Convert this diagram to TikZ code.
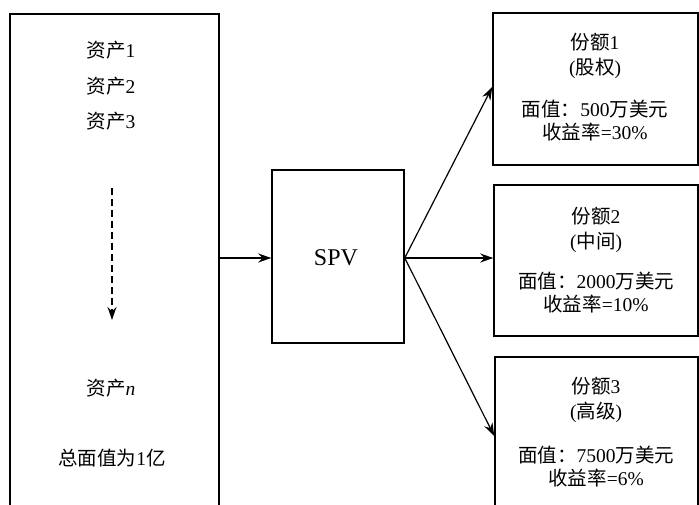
\documentclass[tikz,border=0pt]{standalone}
\usepackage{fontspec}
\setmainfont{Liberation Serif}
\newfontfamily\cjk{Noto Sans CJK SC}
\usetikzlibrary{arrows.meta,calc}
\tikzset{
  box/.style={draw, line width=1.5pt, inner sep=0pt},
  lbl/.style={font=\fontsize{19.5}{22}\selectfont, inner sep=0pt, align=center},
  hd/.style={lbl, font=\fontsize{19.5}{25}\selectfont},
  vl/.style={lbl, font=\fontsize{19.5}{23}\selectfont},
  conn/.style={line width=1.2pt, -{Stealth[length=13pt,width=9pt]}},
}
\begin{document}
\begin{tikzpicture}[x=1pt,y=-1pt]
\useasboundingbox (0,0) rectangle (699,505);
\clip (0,0) rectangle (699,505);
\fill[white] (0,0) rectangle (699,505);
% boxes
\node[box, minimum width=209pt, minimum height=520pt] (L) at (114.5,274) {};
\node[box, minimum width=132pt, minimum height=173pt] (spv) at (338,256.5) {};
\node[box, minimum width=205pt, minimum height=152pt] (t1) at (595.5,89) {};
\node[box, minimum width=204pt, minimum height=151pt] (t2) at (596,260.5) {};
\node[box, minimum width=203pt, minimum height=200pt] (t3) at (596.5,457) {};
% left box texts
\node[lbl] (a1) at (111,50) {{\cjk 资产}1};
\node[lbl] (a2) at (111,86) {{\cjk 资产}2};
\node[lbl] (a3) at (111,121) {{\cjk 资产}3};
\coordinate (d1) at (112,188);
\coordinate (d2) at (112,320);
\draw[line width=1.6pt, dash pattern=on 7pt off 4pt, -{Stealth[length=13pt,width=9pt]}] (d1) -- (d2);
\node[lbl] (an) at (111,388) {{\cjk 资产}\textit{n}};
\node[lbl] (tot) at (112,458) {{\cjk 总面值为}1{\cjk 亿}};
% SPV
\node[font=\fontsize{24}{28}\selectfont, inner sep=0pt] (spvt) at ($(spv.center)+(-2,1)$) {SPV};
% tranche texts
\node[hd] (h1) at (595,56) {{\cjk 份额}1\\({\cjk 股权})};
\node[vl] (v1) at (595,121) {{\cjk 面值：}500{\cjk 万美元}\\{\cjk 收益率}=30\%};
\node[hd] (h2) at (596,230) {{\cjk 份额}2\\({\cjk 中间})};
\node[vl] (v2) at (596,293) {{\cjk 面值：}2000{\cjk 万美元}\\{\cjk 收益率}=10\%};
\node[hd] (h3) at (596,400) {{\cjk 份额}3\\({\cjk 高级})};
\node[vl] (v3) at (596,467) {{\cjk 面值：}7500{\cjk 万美元}\\{\cjk 收益率}=6\%};
% connectors
\coordinate (o) at ($(spv.east)+(0,1.5)$);
\draw[conn] (L.east |- o) -- (spv.west |- o);
\draw[conn] (o) -- (t1.west |- 0,87);
\draw[conn] (o) -- (t2.west |- o);
\draw[conn] (o) -- (t3.west |- 0,436);
\end{tikzpicture}
\end{document}
